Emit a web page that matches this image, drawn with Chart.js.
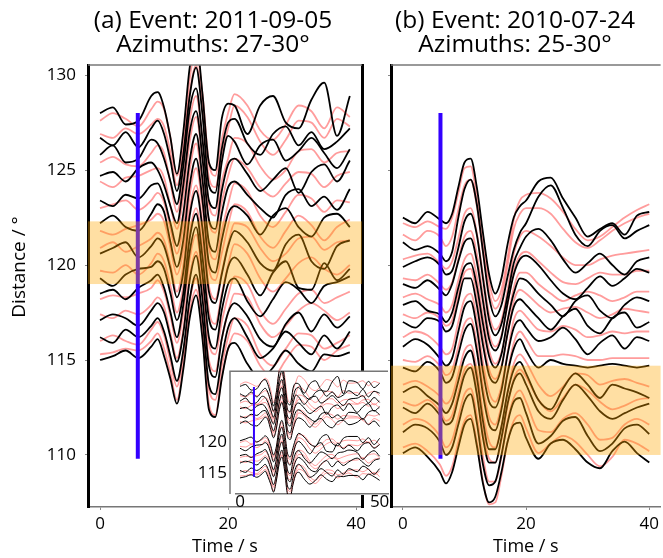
<!DOCTYPE html>
<html>
<head>
<meta charset="utf-8">
<script src="https://cdn.jsdelivr.net/npm/chart.js@4.4.1/dist/chart.umd.min.js"></script>
<style>
body { margin: 0; background: #fff; }
#wrap { position: relative; width: 663px; height: 558px; overflow: hidden; background: #fff; }
canvas { position: absolute; }
</style>
</head>
<body>
<div id="wrap">
  <canvas id="cA" width="426" height="558" style="left:0;top:0"></canvas>
  <canvas id="cB" width="296" height="558" style="left:367px;top:0"></canvas>
  <canvas id="cI" width="200" height="150" style="left:195px;top:360px"></canvas>
</div>
<script>
var FONT = '"Open Sans", "Noto Sans", sans-serif';

// axis ranges and tick labels
var yRange = [107.26, 130.53];
var yTicks = [110, 115, 120, 125, 130];
var xRangeA = [-1.875, 40.9];
var xRangeB = [-1.93, 41.84];
var xTicks = [0, 20, 40];
var insetYRange = [111.6, 131.45];
var insetXRange = [-1.43, 53.0];
var insetYTicks = [115, 120];
var insetXTicks = [0, 50];

// (a) 2011-09-05 : sample times (s), trace distances (deg) and wiggles (deg)
var timeA = [0,2,4,6,8,9,10,11,12,13,14,15,16,17,18,19,20,21,23,25,27,29,31,33,35,37,39];
var distBlackA = [128.0, 126.7, 125.8, 124.7, 123.4, 122.2, 120.6, 119.3, 118.5, 117.1, 116.2, 115.0];
var distPinkA  = [127.6, 126.9, 125.4, 124.4, 123.0, 121.8, 120.9, 119.7, 118.2, 117.4, 116.0, 115.3];
var blackA = [
  [0, 0.3, -0.6, -0.4, 0.9, 1.1, 0.3, -1.3, -3.2, -1.0, 2.4, 3.8, 1.0, -2.6, -3.0, -0.3, 0.5, 0.4, -1.1, 0.4, 0.9, -0.5, -0.8, 0.7, 1.6, -1.2, 0.9],
  [0, -0.4, 0.3, -0.5, 0.5, 0.9, 0.2, -1.2, -2.8, -0.9, 2.2, 3.7, 1.2, -2.5, -2.9, -0.6, 0.8, 1.0, -0.3, -0.9, 0.2, 0.6, -0.4, 0.3, -0.6, -0.2, 0.5],
  [0, 0.5, -0.4, -0.2, 0.8, 0.6, -0.2, -1.4, -2.6, -0.6, 2.4, 3.5, 0.8, -2.4, -2.8, -0.4, 1.0, 0.7, -0.5, 0.5, 0.8, -0.3, 0.2, 0.9, 0.1, -0.7, 0.3],
  [0, 0.2, -0.3, 0.4, 0.7, 0.3, -0.5, -1.6, -2.5, -0.5, 2.3, 3.4, 0.9, -2.3, -2.8, -0.8, 0.6, 0.9, 0.1, -0.8, -0.2, 0.4, -0.9, 0.2, 0.6, -0.3, 0.8],
  [0, -0.3, 0.3, 0.1, 0.8, 0.9, 0.1, -1.2, -2.4, -0.7, 2.1, 3.5, 1.1, -2.2, -2.7, -0.7, 0.7, 1.0, 0.3, -0.4, -0.9, 0.3, 0.6, -0.3, 0.2, -0.5, 0.6],
  [0, 0.4, -0.2, -0.4, 0.5, 1.0, 0.6, -1.0, -2.3, -0.9, 2.0, 3.4, 1.2, -2.1, -2.6, -0.9, 0.5, 0.9, 0.4, -0.6, 0.4, 0.8, -0.2, -0.7, 0.3, 0.5, -0.2],
  [0, 0.3, 0.6, -0.2, 0.4, 0.8, 0.4, -0.8, -2.3, -1.0, 2.0, 3.3, 1.3, -2.0, -2.6, -1.1, 0.4, 1.2, 0.6, -0.5, -0.9, 0.5, 1.0, -0.4, -0.8, 0.4, 0.7],
  [0, -0.4, 0.2, 0.5, 0.6, 0.9, 0.5, -0.8, -2.2, -0.8, 2.1, 3.4, 1.1, -2.1, -2.7, -1.0, 0.6, 1.1, 0.2, -0.9, 0.3, 0.9, -0.5, -0.6, 0.8, -0.1, 0.5],
  [0, 0.2, -0.3, 0.3, 0.7, 1.0, 0.3, -1.0, -2.3, -0.6, 2.2, 3.5, 1.0, -2.3, -2.9, -0.9, 0.5, 0.8, -0.4, -1.2, -0.3, 0.6, 0.2, -0.5, 0.4, 0.6, 0.9],
  [0, 0.3, 0.1, -0.3, 0.5, 0.9, 0.4, -0.9, -2.2, -0.7, 2.1, 3.4, 1.1, -2.4, -3.0, -1.0, 0.4, 0.9, 0.2, -1.0, -1.4, -0.2, 0.4, -0.6, 0.3, -0.4, 0.2],
  [0, -0.3, 0.4, 0.0, 0.6, 1.0, 0.3, -1.0, -2.3, -0.7, 2.0, 3.3, 1.0, -2.5, -3.0, -1.1, 0.5, 1.0, 0.0, -1.1, -0.6, 0.3, -0.3, -0.9, 0.1, -0.6, 0.3],
  [0, 0.2, 0.5, 0.1, 0.7, 1.1, 0.2, -1.0, -2.3, -0.5, 2.2, 3.4, 1.1, -2.6, -3.0, -1.0, 0.6, 0.9, -0.2, -1.0, -0.4, 0.5, -0.2, -0.6, 0.3, 0.2, 0.4]
];
var pinkA = [
  [0, 0.4, 0.1, -0.3, 0.6, 1.0, 0.6, -0.9, -2.9, -1.2, 2.2, 3.7, 1.4, -2.2, -2.9, -1.0, 0.4, 1.4, 0.8, -0.5, -1.0, -0.2, 0.8, 0.5, -0.4, 0.7, 0.2],
  [0, -0.2, 0.3, 0.0, 0.5, 0.8, 0.4, -1.0, -2.7, -1.1, 2.1, 3.6, 1.3, -2.3, -2.8, -1.1, 0.3, 1.5, 0.9, -0.4, -1.1, -0.3, 0.7, 0.6, -0.2, 0.8, 0.4],
  [0, 0.3, -0.1, -0.2, 0.5, 0.9, 0.5, -1.1, -2.6, -0.9, 2.2, 3.5, 1.2, -2.2, -2.8, -1.0, 0.2, 1.3, 1.0, -0.2, -0.9, -0.4, 0.6, 0.7, 0.0, 0.5, 0.6],
  [0, -0.3, 0.2, 0.3, 0.6, 0.7, 0.2, -1.3, -2.5, -0.8, 2.1, 3.4, 1.1, -2.1, -2.7, -1.1, 0.3, 1.2, 0.7, -0.3, -0.8, -0.1, 0.5, 0.4, -0.3, 0.3, 0.5],
  [0, 0.2, 0.4, -0.1, 0.4, 0.8, 0.3, -1.1, -2.4, -0.9, 2.0, 3.4, 1.2, -2.1, -2.7, -1.2, 0.2, 1.3, 0.9, -0.4, -1.0, -0.2, 0.7, 0.5, -0.2, 0.4, 0.3],
  [0, -0.2, 0.1, 0.3, 0.6, 0.9, 0.5, -0.9, -2.3, -1.0, 1.9, 3.3, 1.3, -2.0, -2.6, -1.2, 0.3, 1.4, 1.0, -0.3, -0.9, 0.0, 0.8, 0.3, -0.5, 0.2, 0.6],
  [0, 0.3, -0.2, 0.1, 0.5, 0.8, 0.4, -0.9, -2.3, -0.9, 2.0, 3.3, 1.2, -2.0, -2.7, -1.3, 0.2, 1.3, 1.1, 0.0, -0.7, -0.3, 0.5, 0.6, -0.1, 0.3, 0.4],
  [0, -0.1, 0.3, -0.2, 0.4, 0.9, 0.5, -0.8, -2.2, -0.8, 2.0, 3.3, 1.3, -2.1, -2.8, -1.2, 0.3, 1.4, 0.9, -0.4, -1.1, -0.4, 0.4, 0.7, 0.1, -0.2, 0.3],
  [0, 0.2, 0.1, 0.3, 0.6, 1.0, 0.4, -0.9, -2.3, -0.7, 2.1, 3.4, 1.1, -2.3, -2.9, -1.2, 0.2, 1.2, 0.8, -0.6, -1.3, -0.5, 0.3, 0.5, -0.2, 0.1, 0.4],
  [0, -0.2, 0.2, 0.0, 0.5, 0.9, 0.4, -1.0, -2.3, -0.8, 2.0, 3.3, 1.2, -2.4, -3.0, -1.3, 0.1, 1.1, 0.9, -0.5, -1.2, -0.6, 0.2, 0.6, 0.2, -0.3, 0.1],
  [0, 0.3, 0.0, -0.2, 0.6, 1.0, 0.3, -1.1, -2.4, -0.7, 2.1, 3.3, 1.1, -2.5, -3.1, -1.3, 0.2, 1.2, 0.8, -0.7, -1.3, -0.4, 0.4, 0.3, -0.4, -0.1, 0.3],
  [0, 0.1, 0.3, 0.2, 0.7, 1.1, 0.3, -1.0, -2.4, -0.6, 2.2, 3.4, 1.2, -2.6, -3.2, -1.2, 0.3, 1.1, 0.7, -0.6, -1.2, -0.3, 0.5, 0.4, -0.3, 0.2, 0.5]
];
var pickA = [5.9, 109.8, 128.0];   // time, from, to
var bandA = [119.0, 122.3];

// (b) 2010-07-24
var timeB = [0,2,4,6,7,8,9,10,11,12,13,14,15,16,17,18,19,20,22,24,26,28,30,32,34,36,38,40];
var distBlackB = [122.5, 121.2, 119.9, 119.0, 117.9, 117.0, 115.7, 114.6, 113.3, 112.5, 111.2, 110.1];
var distPinkB  = [122.2, 121.6, 120.3, 119.3, 118.3, 117.4, 116.2, 115.0, 113.7, 112.8, 111.6, 110.4];
var blackB = [
  [0, -0.3, 0.3, -0.1, -0.3, 0.2, 1.6, 2.9, 3.1, 1.6, -0.8, -3.0, -4.0, -3.2, -1.4, 0.0, 0.6, 0.9, 1.9, 2.1, 1.0, 0.0, -1.0, -0.6, -0.3, -0.9, 0.1, 0.3],
  [0, -0.4, -0.2, -0.6, -1.0, -0.5, 1.3, 2.8, 3.3, 2.0, -0.5, -2.9, -3.9, -3.3, -1.8, -0.4, 0.5, 1.0, 2.4, 3.0, 1.8, 0.4, -0.2, 0.6, 0.9, 0.2, 0.6, 0.9],
  [0, 0.3, 0.5, 0.1, -0.4, -0.2, 1.0, 2.4, 2.8, 1.7, -0.6, -2.8, -3.6, -3.0, -1.5, 0.2, 1.0, 1.6, 2.0, 1.4, 0.4, -0.3, 0.2, 0.7, 0.1, -0.4, 0.3, 0.5],
  [0, -0.2, 0.2, -0.3, -0.6, 0.0, 1.2, 2.2, 2.4, 1.2, -0.9, -2.9, -3.5, -2.8, -1.0, 0.5, 1.3, 1.5, 1.0, 0.2, -0.5, -0.8, -0.2, 0.4, -0.1, 0.3, 0.8, 0.6],
  [0, 0.2, -0.3, -0.5, -0.9, -0.4, 0.9, 2.0, 2.2, 1.0, -1.0, -2.7, -3.3, -2.6, -0.8, 0.6, 1.4, 1.3, 0.6, 0.0, -0.6, 0.2, 0.5, -0.3, -0.7, 0.0, 0.4, 0.2],
  [0, -0.3, 0.2, 0.0, -0.5, -0.2, 1.1, 2.3, 2.3, 0.9, -1.2, -2.8, -3.2, -2.4, -0.6, 0.8, 1.2, 0.9, 0.2, -0.4, 0.3, 0.7, -0.2, -0.6, 0.2, 0.5, -0.3, 0.0],
  [0, 0.4, 0.1, -0.6, -1.0, -0.6, 0.8, 2.1, 2.4, 1.0, -1.3, -2.9, -3.2, -2.3, -0.4, 1.0, 1.4, 1.0, 0.3, 0.5, 1.0, 0.4, -0.4, 0.2, 0.6, -0.1, 0.5, 0.3],
  [0, -0.2, 0.3, -0.2, -0.8, -0.5, 0.7, 1.9, 2.3, 0.9, -1.4, -3.0, -3.3, -2.2, -0.3, 1.0, 1.5, 0.9, 0.0, 0.4, 0.2, 0.1, 0.0, 0.1, 0.2, 0.1, 0.0, 0.1],
  [0, 0.3, -0.2, -0.7, -1.1, -0.6, 0.6, 1.8, 2.2, 0.8, -1.5, -3.0, -3.0, -1.8, 0.0, 1.2, 1.6, 1.0, -0.4, -0.9, 0.2, 1.0, 0.4, -0.3, 0.4, 0.2, 0.0, -0.3],
  [0, -0.3, 0.2, -0.4, -0.9, -0.7, 0.5, 1.7, 2.1, 0.7, -1.6, -2.9, -2.9, -1.6, 0.2, 1.4, 1.8, 1.2, -0.2, -0.6, 0.4, 1.2, 0.6, -0.2, -0.6, -0.3, 0.0, 0.2],
  [0, 0.4, 0.2, -0.5, -1.2, -0.8, 0.4, 1.6, 2.0, 0.5, -1.7, -2.8, -2.6, -1.2, 0.5, 1.6, 1.8, 1.0, -0.6, -0.2, 0.6, 0.8, -0.2, -1.0, -0.6, 0.2, 0.4, -0.1],
  [0, 0.3, -0.2, -1.0, -1.6, -1.0, 0.3, 1.5, 1.8, 0.4, -1.6, -2.6, -2.3, -1.0, 0.6, 1.5, 1.6, 0.8, -0.3, 0.5, 0.7, 0.2, -0.5, -0.8, 0.1, 0.6, 0.0, -0.5]
];
var pinkB = [
  [0, -0.2, 0.1, -0.2, -0.3, 0.3, 1.6, 2.9, 3.0, 1.4, -1.0, -3.1, -4.1, -3.5, -1.8, 0.2, 1.2, 1.5, 1.6, 1.3, 0.6, -0.3, -0.9, -0.7, -0.2, 0.3, 0.7, 1.0],
  [0, -0.3, 0.2, -0.1, -0.6, -0.1, 1.3, 2.6, 2.9, 1.5, -0.9, -3.0, -3.9, -3.3, -1.6, 0.3, 1.1, 1.4, 1.4, 1.1, 0.3, -0.4, -0.7, -0.3, 0.2, 0.6, 0.9, 1.1],
  [0, 0.2, 0.3, -0.2, -0.5, -0.1, 1.1, 2.4, 2.7, 1.4, -0.8, -2.9, -3.7, -3.2, -1.6, 0.3, 1.2, 1.5, 1.2, 0.7, 0.1, -0.3, -0.3, 0.0, 0.2, 0.3, 0.4, 0.5],
  [0, -0.1, 0.2, -0.3, -0.6, -0.2, 1.0, 2.2, 2.5, 1.3, -0.9, -2.9, -3.6, -3.0, -1.4, 0.4, 1.2, 1.4, 0.9, 0.3, -0.2, -0.3, 0.0, 0.3, 0.2, 0.2, 0.4, 0.4],
  [0, 0.2, -0.1, -0.4, -0.8, -0.4, 0.9, 2.0, 2.3, 1.1, -1.0, -2.8, -3.5, -2.9, -1.3, 0.5, 1.3, 1.3, 0.7, 0.2, -0.2, 0.1, 0.3, 0.1, -0.2, 0.0, 0.3, 0.3],
  [0, -0.2, 0.1, -0.2, -0.6, -0.3, 1.0, 2.2, 2.4, 1.0, -1.2, -2.9, -3.4, -2.7, -1.0, 0.7, 1.3, 1.1, 0.5, 0.1, 0.3, 0.4, 0.1, -0.2, 0.0, 0.3, 0.2, 0.1],
  [0, 0.3, 0.1, -0.5, -0.9, -0.6, 0.8, 2.0, 2.3, 1.0, -1.3, -2.9, -3.4, -2.6, -0.8, 0.9, 1.4, 1.1, 0.4, 0.3, 0.6, 0.4, 0.0, 0.1, 0.3, 0.2, 0.3, 0.3],
  [0, -0.1, 0.2, -0.3, -0.8, -0.5, 0.7, 1.9, 2.2, 0.9, -1.4, -3.0, -3.4, -2.4, -0.6, 0.9, 1.5, 1.1, 0.2, 0.2, 0.3, 0.2, 0.0, 0.0, 0.1, 0.1, 0.1, 0.1],
  [0, 0.2, -0.1, -0.6, -1.0, -0.6, 0.6, 1.8, 2.1, 0.8, -1.5, -3.0, -3.3, -2.2, -0.4, 1.1, 1.6, 1.2, 0.0, -0.6, -0.1, 0.6, 0.5, 0.0, 0.2, 0.3, 0.1, -0.1],
  [0, -0.2, 0.1, -0.5, -1.0, -0.7, 0.5, 1.7, 2.0, 0.7, -1.6, -3.0, -3.2, -2.0, -0.2, 1.2, 1.7, 1.3, 0.1, -0.5, 0.2, 0.9, 0.6, 0.0, -0.4, -0.2, 0.1, 0.2],
  [0, 0.3, 0.1, -0.6, -1.2, -0.8, 0.4, 1.6, 1.9, 0.5, -1.7, -3.0, -3.0, -1.7, 0.2, 1.4, 1.8, 1.2, -0.3, -0.4, 0.3, 0.6, 0.0, -0.8, -0.7, 0.0, 0.3, 0.0],
  [0, 0.2, -0.2, -0.9, -1.5, -1.0, 0.3, 1.4, 1.7, 0.3, -1.8, -3.0, -2.9, -1.5, 0.3, 1.4, 1.7, 1.0, -0.3, 0.2, 0.6, 0.3, -0.4, -1.0, -0.5, 0.4, 0.2, -0.2]
];
var pickB = [6.1, 109.8, 128.0];
var bandB = [110.0, 114.7];

// inset: wider azimuth range of event (a), 0-50 s
var insetDistBlack = [129.0, 127.8, 126.6, 125.4, 124.2, 123.0, 120.2, 119.0, 117.8, 116.6, 115.4, 114.2];
var insetDistPink  = [129.3, 127.5, 126.3, 125.7, 123.9, 123.3, 119.9, 119.3, 117.5, 116.9, 115.1, 114.5];
var insetTailTime = [42, 44, 46, 48, 50];
var insetTailBlack = [
  [0.6, -0.4, 0.8, -0.2, 0.5], [-0.3, 0.7, -0.5, 0.4, 0.1], [0.5, 0.9, -0.3, 0.6, -0.2],
  [-0.6, 0.3, 0.8, -0.4, 0.3], [0.4, -0.5, 0.6, 0.9, 0.2], [0.2, 0.8, -0.2, 0.4, -0.5],
  [0.7, -0.3, 0.5, -0.6, 0.4], [-0.4, 0.6, 0.9, 0.0, 0.6], [0.5, -0.6, 0.3, 0.8, -0.1],
  [0.8, 0.1, -0.5, 0.4, 0.7], [-0.2, 0.7, 0.2, -0.6, 0.3], [0.4, -0.3, 0.6, 0.2, -0.4]
];
var insetTailPink = [
  [0.3, 0.6, -0.2, 0.5, 0.2], [0.5, -0.2, 0.4, 0.7, 0.0], [-0.1, 0.5, 0.6, -0.3, 0.4],
  [0.4, 0.7, 0.1, 0.5, -0.2], [0.2, -0.3, 0.5, 0.3, 0.6], [0.6, 0.2, -0.4, 0.5, 0.1],
  [0.3, 0.6, 0.0, 0.4, -0.3], [0.1, 0.5, 0.7, -0.2, 0.3], [0.6, -0.1, 0.4, 0.6, 0.0],
  [0.2, 0.5, -0.3, 0.3, 0.5], [0.4, 0.1, 0.5, -0.4, 0.2], [-0.2, 0.4, 0.3, 0.6, -0.1]
];
var pickInset = [5.0, 114.4, 128.9];

var BLACK = '#000000';
var PINK = 'rgba(255,90,90,0.6)';
var BLUE = '#3300ff';
var BAND = 'rgba(255,165,0,0.36)';

function traces(times, dists, devs, color, width) {
  var sets = [];
  for (var i = 0; i < dists.length; i++) {
    var pts = [];
    for (var j = 0; j < times.length; j++) {
      pts.push({x: times[j], y: dists[i] + devs[i][j]});
    }
    sets.push({data: pts, borderColor: color, borderWidth: width, pointRadius: 0,
               cubicInterpolationMode: 'monotone', fill: false});
  }
  return sets;
}

function pickLine(p, width) {
  return {data: [{x: p[0], y: p[1]}, {x: p[0], y: p[2]}], borderColor: BLUE,
          borderWidth: width, pointRadius: 0, tension: 0, fill: false};
}

// orange distance band drawn over the traces
var bandPlugin = {
  id: 'band',
  afterDatasetsDraw: function(chart, args, o) {
    if (!o.range) return;
    var a = chart.chartArea, y = chart.scales.y, ctx = chart.ctx;
    var top = y.getPixelForValue(o.range[1]), bot = y.getPixelForValue(o.range[0]);
    ctx.save();
    ctx.fillStyle = BAND;
    ctx.fillRect(a.left, top, a.right - a.left, bot - top);
    ctx.restore();
  }
};

// top frame line and the rotated distance label
var framePlugin = {
  id: 'frame',
  afterDraw: function(chart, args, o) {
    var a = chart.chartArea, ctx = chart.ctx;
    ctx.save();
    ctx.strokeStyle = '#777'; ctx.lineWidth = 1.5;
    ctx.beginPath(); ctx.moveTo(a.left, a.top); ctx.lineTo(a.right, a.top); ctx.stroke();
    if (o.yTitle) {
      ctx.translate(20, 267);
      ctx.rotate(-Math.PI / 2);
      ctx.fillStyle = '#000';
      ctx.font = '19px ' + FONT;
      ctx.textAlign = 'center';
      ctx.textBaseline = 'middle';
      ctx.fillText(o.yTitle, 0, 0);
    }
    ctx.restore();
  }
};

// white box behind the inset
var insetBgPlugin = {
  id: 'insetBg',
  beforeDraw: function(chart) {
    var a = chart.chartArea, ctx = chart.ctx;
    ctx.save();
    ctx.fillStyle = '#ffffff';
    ctx.fillRect(a.left - 6, a.top, a.right - a.left + 6, a.bottom - a.top + 1);
    ctx.strokeStyle = '#777'; ctx.lineWidth = 1.5;
    ctx.beginPath();
    ctx.moveTo(a.left - 6, a.bottom); ctx.lineTo(a.left - 6, a.top); ctx.lineTo(a.right, a.top);
    ctx.stroke();
    ctx.restore();
  }
};

function tickSetter(list) {
  return function(s) { s.ticks = list.map(function(v) { return {value: v}; }); };
}

function panelOptions(title, xRange, yTitle, band, yAxisWidth, rightWidth) {
  var scales = {
    x: {
      type: 'linear', min: xRange[0], max: xRange[1],
      afterBuildTicks: tickSetter(xTicks),
      afterFit: function(s) { s.height = 51; },
      ticks: {color: '#000', padding: 4, font: {family: FONT, size: 17}},
      grid: {drawOnChartArea: false, drawTicks: true, tickLength: 3, color: '#888'},
      border: {color: '#777', width: 1.5},
      title: {display: true, text: 'Time / s', color: '#000', font: {family: FONT, size: 18},
              padding: {top: 0, bottom: 0}}
    },
    y: {
      type: 'linear', min: yRange[0], max: yRange[1],
      afterBuildTicks: tickSetter(yTicks),
      afterFit: function(s) { s.width = yAxisWidth; },
      ticks: {display: !!yTitle, color: '#000', padding: 9, font: {family: FONT, size: 17}},
      grid: {drawOnChartArea: false, drawTicks: true, tickLength: 3, color: '#888'},
      border: {color: '#000', width: 3}
    }
  };
  if (rightWidth) {
    // empty right axis: gives the black right frame and keeps the title centred on the canvas
    scales.yRight = {
      type: 'linear', position: 'right', min: 0, max: 1,
      afterFit: function(s) { s.width = rightWidth; },
      ticks: {display: false},
      grid: {display: false},
      border: {color: '#000', width: 3}
    };
  }
  return {
    responsive: false,
    animation: false,
    layout: {padding: 0},
    plugins: {
      legend: {display: false},
      tooltip: {enabled: false},
      title: {display: true, text: title, color: '#000',
              font: {family: FONT, size: 24.5, weight: 'normal', lineHeight: 0.94},
              padding: {top: 10, bottom: 9}},
      band: {range: band},
      frame: {yTitle: yTitle}
    },
    scales: scales
  };
}

var chartA = new Chart(document.getElementById('cA'), {
  type: 'line',
  data: {datasets: [pickLine(pickA, 4)]
    .concat(traces(timeA, distBlackA, blackA, BLACK, 1.8))
    .concat(traces(timeA, distPinkA, pinkA, PINK, 1.8))},
  options: panelOptions(['(a) Event: 2011-09-05', 'Azimuths: 27-30°'], xRangeA, 'Distance / °', bandA, 88, 64),
  plugins: [bandPlugin, framePlugin]
});

var chartB = new Chart(document.getElementById('cB'), {
  type: 'line',
  data: {datasets: [pickLine(pickB, 4)]
    .concat(traces(timeB, distBlackB, blackB, BLACK, 1.8))
    .concat(traces(timeB, distPinkB, pinkB, PINK, 1.8))},
  options: panelOptions(['(b) Event: 2010-07-24', 'Azimuths: 25-30°'], xRangeB, null, bandB, 24, 0),
  plugins: [bandPlugin, framePlugin]
});

var insetTime = timeA.concat(insetTailTime);
var insetBlackDev = blackA.map(function(r, i) { return r.concat(insetTailBlack[i]); });
var insetPinkDev = pinkA.map(function(r, i) { return r.concat(insetTailPink[i]); });

var chartI = new Chart(document.getElementById('cI'), {
  type: 'line',
  data: {datasets: [pickLine(pickInset, 2)]
    .concat(traces(insetTime, insetDistBlack, insetBlackDev, BLACK, 1))
    .concat(traces(insetTime, insetDistPink, insetPinkDev, PINK, 1))},
  options: {
    responsive: false,
    animation: false,
    layout: {padding: {left: 0, right: 7, top: 11, bottom: 0}},
    plugins: {legend: {display: false}, tooltip: {enabled: false}},
    scales: {
      x: {
        type: 'linear', min: insetXRange[0], max: insetXRange[1],
        afterBuildTicks: tickSetter(insetXTicks),
        afterFit: function(s) { s.height = 16; },
        ticks: {color: '#000', padding: -10, font: {family: FONT, size: 17}},
        grid: {display: false},
        border: {color: '#777', width: 1.5}
      },
      y: {
        type: 'linear', min: insetYRange[0], max: insetYRange[1],
        afterBuildTicks: tickSetter(insetYTicks),
        afterFit: function(s) { s.width = 41; },
        ticks: {color: '#000', padding: 1, font: {family: FONT, size: 17}},
        grid: {display: false},
        border: {display: false}
      }
    }
  },
  plugins: [insetBgPlugin]
});
</script>
</body>
</html>
